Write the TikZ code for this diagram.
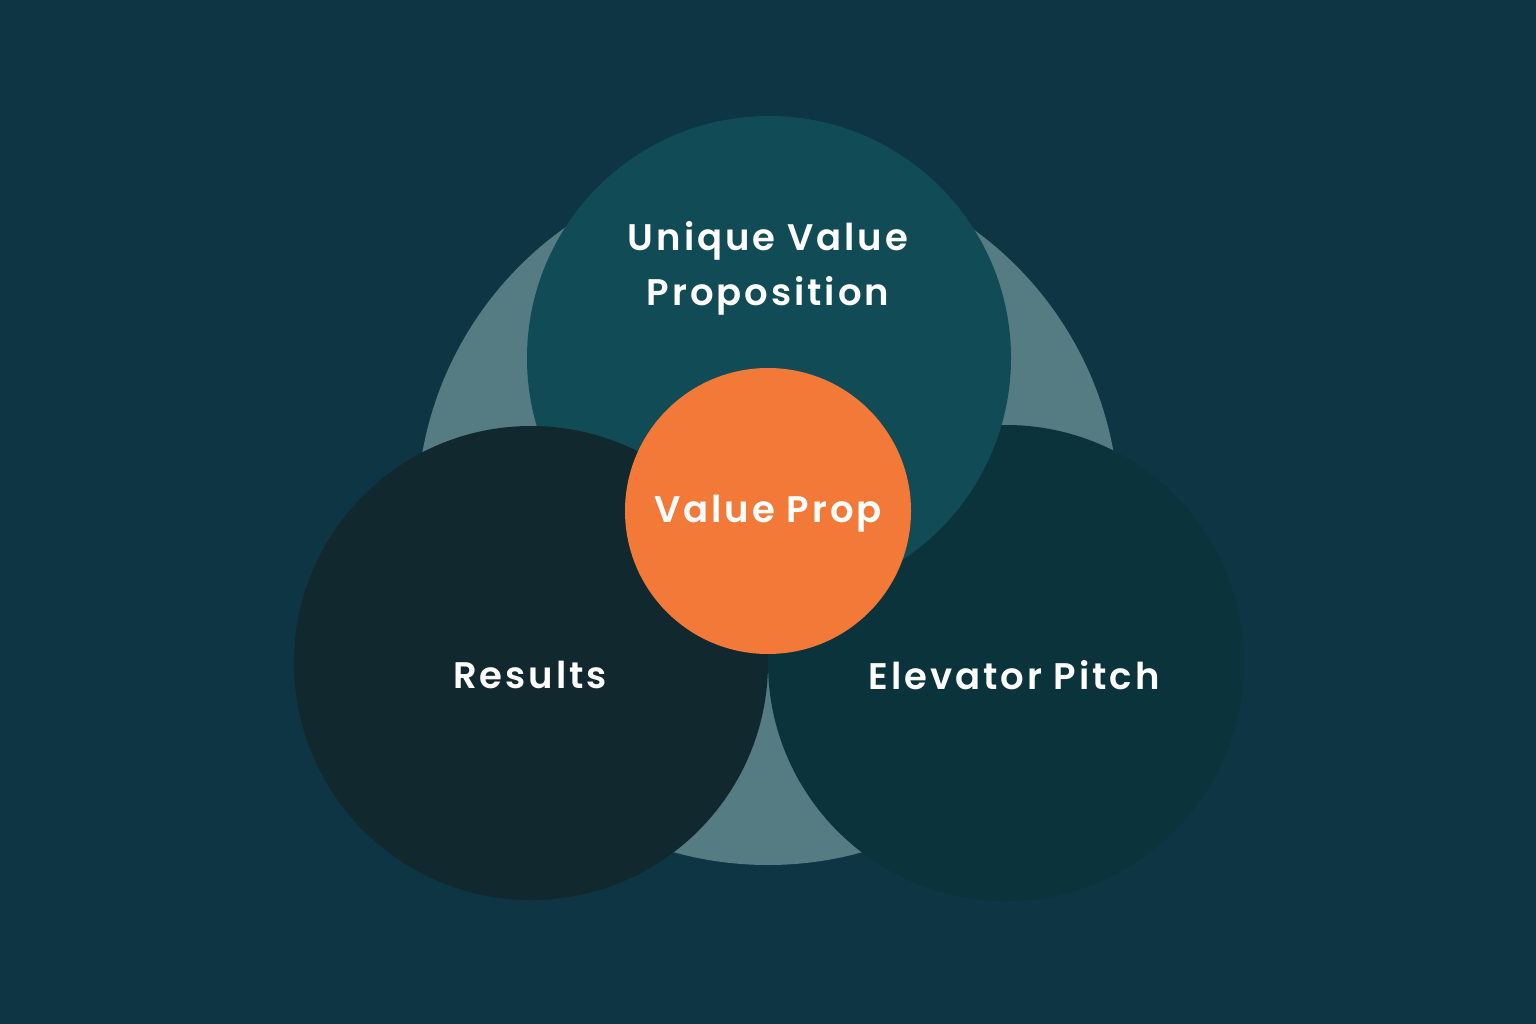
\documentclass[tikz,border=0pt]{standalone}
\usepackage{fontspec}
\newfontfamily\pop[LetterSpace=8]{Poppins SemiBold}
\definecolor{bg}{HTML}{0D3543}
\definecolor{pale}{HTML}{557B83}
\definecolor{topc}{HTML}{114B56}
\definecolor{leftc}{HTML}{12282F}
\definecolor{rightc}{HTML}{0B333C}
\definecolor{orange}{HTML}{F27938}
\tikzset{
  lbl/.style={text=white, font=\pop\fontsize{37}{55}\selectfont, align=center},
  disc/.style={circle, inner sep=0pt, draw=none}
}
\begin{document}
\begin{tikzpicture}[x=1pt,y=-1pt]
\fill[bg] (0,0) rectangle (1536,1024);
\useasboundingbox (0,0) rectangle (1536,1024);
\node[disc, fill=pale, minimum size=702] (halo) at (768,514) {};
\node[disc, fill=rightc, minimum size=476] (right) at (1006,663) {};
\node[disc, fill=topc, minimum size=484] (top) at (769,358) {};
\node[disc, fill=leftc, minimum size=474] (left) at (531,663) {};
\node[disc, fill=orange, minimum size=286] (core) at (768,511) {};
\node[lbl] (toplbl) at (768,268) {Unique Value\\Proposition};
\node[lbl] (corelbl) at (768,514) {Value Prop};
\node[lbl] (leftlbl) at (530,675) {Results};
\node[lbl] (rightlbl) at (1014,675) {Elevator Pitch};
\end{tikzpicture}
\end{document}
